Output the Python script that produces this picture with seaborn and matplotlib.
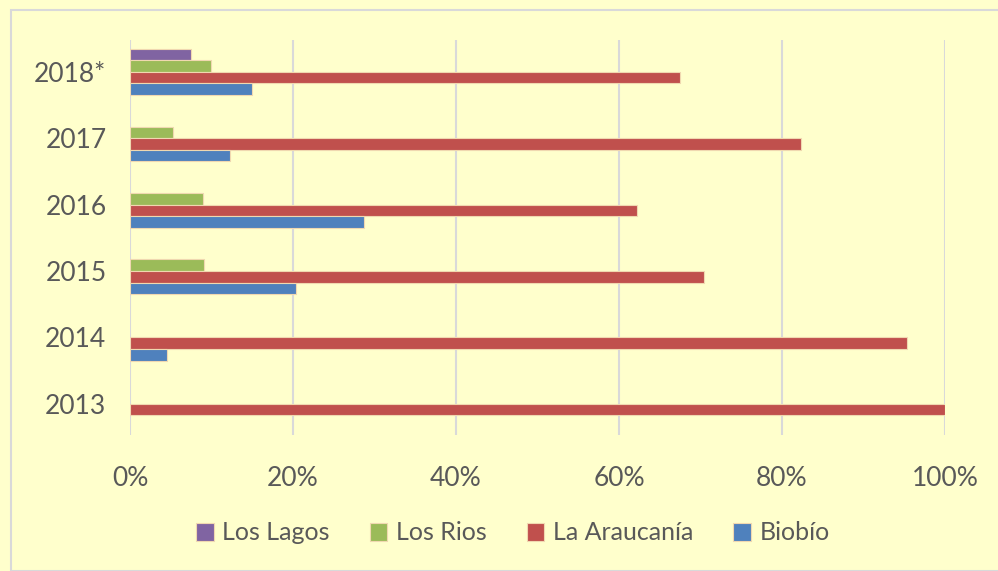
import matplotlib
matplotlib.use("Agg")
import matplotlib.pyplot as plt
import seaborn as sns
import pandas as pd
import numpy as np
from matplotlib.patches import Rectangle

years = ["2018*", "2017", "2016", "2015", "2014", "2013"]
regions = ["Los Lagos", "Los Rios", "La Araucanía", "Biobío"]
los_lagos = [7.5, np.nan, np.nan, np.nan, np.nan, np.nan]
los_rios = [9.9, 5.3, 9.0, 9.1, np.nan, np.nan]
la_araucania = [67.5, 82.3, 62.2, 70.4, 95.3, 100.0]
biobio = [15.0, 12.3, 28.7, 20.4, 4.5, np.nan]
colors = ["#8064A2", "#9BBB59", "#C0504D", "#4F81BD"]

rows = []
for reg, vals in zip(regions, [los_lagos, los_rios, la_araucania, biobio]):
    for y, v in zip(years, vals):
        rows.append({"year": y, "region": reg, "value": v})
df = pd.DataFrame(rows)

sns.set_theme(style="white")
plt.rcParams['font.family'] = ['Lato', 'DejaVu Sans']
bg = "#FFFFCC"
fig = plt.figure(figsize=(9.98, 5.71), dpi=100, facecolor=bg)
ax = fig.add_axes([130/998, 1-435/571, (945-130)/998, (435-40)/571])
ax.set_facecolor(bg)

sns.barplot(data=df, y="year", x="value", hue="region", order=years,
            hue_order=regions, palette=colors, orient="h", width=0.7,
            ax=ax, saturation=1, linewidth=0.8, edgecolor="#F0D8B0")

ax.set_xlim(0, 100)
ax.set_ylim(5.47, -0.48)
ax.set_xticks([0, 20, 40, 60, 80, 100])
ax.set_xticklabels([f"{t}%" for t in [0, 20, 40, 60, 80, 100]])
ax.xaxis.grid(True, color="#D9D9D9", linewidth=1.5)
ax.set_axisbelow(True)
for s in ax.spines.values():
    s.set_visible(False)
ax.set_xlabel("")
ax.set_ylabel("")
ax.tick_params(axis="x", length=0, pad=22, labelsize=19, labelcolor="#595959")
ax.tick_params(axis="y", length=0, pad=17, labelsize=19, labelcolor="#595959")

h, l = ax.get_legend_handles_labels()
ax.get_legend().remove()
fig.legend(h, l, loc="center", bbox_to_anchor=(513/998, 1-533/571), ncol=4,
           frameon=False, fontsize=18, handlelength=0.7, handleheight=0.7,
           handletextpad=0.35, columnspacing=1.6, labelcolor="#595959")

fig.patches.append(Rectangle((11/998, 0), 1, 1-10/571, transform=fig.transFigure,
                             fill=False, edgecolor="#D9D9D9", linewidth=1.5))
fig.savefig("out.png", dpi=100, facecolor=bg)
